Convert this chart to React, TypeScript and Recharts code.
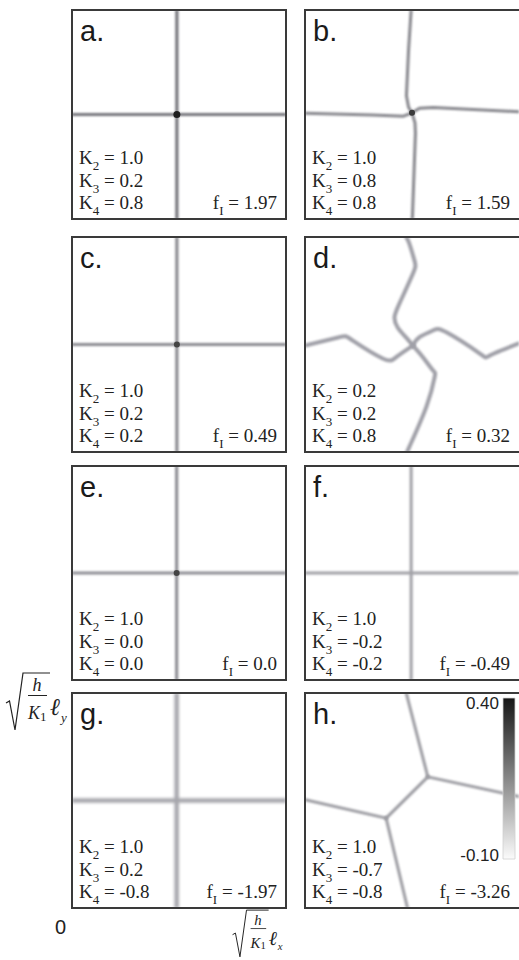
import React from "react";
import { ComposedChart, Line, XAxis, YAxis, BarChart, Bar } from "recharts";

type Arm = number[][];

// panel parameters
const panelLetters = ["a", "b", "c", "d", "e", "f", "g", "h"];
const k2Values = ["1.0", "1.0", "1.0", "0.2", "1.0", "1.0", "1.0", "1.0"];
const k3Values = ["0.2", "0.8", "0.2", "0.2", "0.0", "-0.2", "0.2", "-0.7"];
const k4Values = ["0.8", "0.8", "0.2", "0.8", "0.0", "-0.2", "-0.8", "-0.8"];
const fIValues = ["1.97", "1.59", "0.49", "0.32", "0.0", "-0.49", "-1.97", "-3.26"];

// domain walls, in panel units (0..1, y up)
const wallsA: Arm[] = [
  [[0.49, 0], [0.49, 1]],
  [[0, 0.5], [1, 0.5]],
];
const wallsB: Arm[] = [
  [[0.496, 1], [0.484, 0.81], [0.474, 0.59], [0.484, 0.535], [0.5, 0.508]],
  [[0, 0.506], [0.315, 0.498], [0.46, 0.492], [0.5, 0.508]],
  [[0.5, 0.508], [0.535, 0.53], [0.6, 0.534], [1, 0.513]],
  [[0.5, 0.508], [0.514, 0.46], [0.516, 0.41], [0.502, 0.01], [0.5, 0]],
];
const wallsC: Arm[] = [
  [[0.49, 0], [0.49, 1]],
  [[0, 0.5], [1, 0.5]],
];
const wallsD: Arm[] = [
  [[0.473, 1], [0.488, 0.968], [0.512, 0.889], [0.504, 0.829], [0.441, 0.69], [0.418, 0.625], [0.433, 0.579], [0.473, 0.532], [0.504, 0.495]],
  [[0, 0.495], [0.16, 0.534], [0.222, 0.519], [0.363, 0.435], [0.426, 0.441], [0.504, 0.495]],
  [[0.504, 0.495], [0.535, 0.534], [0.598, 0.565], [0.661, 0.557], [0.817, 0.458], [0.864, 0.449], [1, 0.505]],
  [[0.504, 0.495], [0.551, 0.441], [0.598, 0.38], [0.606, 0.349], [0.567, 0.21], [0.488, 0.025], [0.479, 0]],
];
const wallsE: Arm[] = [
  [[0.489, 0], [0.489, 1]],
  [[0, 0.5], [1, 0.5]],
];
const wallsF: Arm[] = [
  [[0.496, 0], [0.496, 1]],
  [[0, 0.5], [1, 0.5]],
];
const wallsG: Arm[] = [
  [[0.489, 0], [0.489, 1]],
  [[0, 0.5], [1, 0.5]],
];
const wallsH: Arm[] = [
  [[0.473, 1], [0.574, 0.61]],
  [[0.574, 0.61], [1, 0.518]],
  [[0.574, 0.61], [0.379, 0.418]],
  [[0, 0.504], [0.379, 0.418]],
  [[0.379, 0.418], [0.479, 0]],
];
const panelWalls = [wallsA, wallsB, wallsC, wallsD, wallsE, wallsF, wallsG, wallsH];

// dark spots where walls meet
const panelJunctions: number[][][] = [
  [[0.49, 0.5]],
  [[0.5, 0.508]],
  [[0.49, 0.5]],
  [],
  [[0.489, 0.5]],
  [],
  [],
  [],
];

// colour bar
const colorbarTicks = [-0.1, 0.4];
const colorbarData = [{ name: "phi", range: [-0.1, 0.4] }];

const panelStyle = [
  { stroke: "#74747a", width: 3.2, blur: 1.3, dot: "#1e1e1e", r: 3.5 },
  { stroke: "#86868c", width: 3, blur: 1, dot: "#3a3a3a", r: 3 },
  { stroke: "#8a8a90", width: 3.2, blur: 1.2, dot: "#444", r: 3 },
  { stroke: "#a0a0a8", width: 4, blur: 1.2, dot: "#444", r: 3 },
  { stroke: "#8e8e94", width: 3.2, blur: 1.2, dot: "#444", r: 3 },
  { stroke: "#a0a0a6", width: 3, blur: 1.1, dot: "#444", r: 3 },
  { stroke: "#a6a6ac", width: 4.5, blur: 1.4, dot: "#444", r: 3 },
  { stroke: "#9c9ca2", width: 3, blur: 0.9, dot: "#444", r: 3 },
];

const colLeft = [72, 305];
const rowTop = [10, 237, 466, 693];
const rowHeight = [209, 215, 214, 215];
const PW = 214;

const SANS = '"Liberation Sans", Arial, sans-serif';
const SERIF = '"Liberation Serif", "Times New Roman", serif';

function toPts(arm: Arm) {
  return arm.map(([x, y]) => ({ x, y }));
}

function Panel({ i }: { i: number }) {
  const col = i % 2;
  const row = Math.floor(i / 2);
  const left = colLeft[col];
  const top = rowTop[row];
  const h = rowHeight[row];
  const st = panelStyle[i];
  const boxW = col === 1 ? PW + 4 : PW;
  const kLines = [
    ["2", k2Values[i]],
    ["3", k3Values[i]],
    ["4", k4Values[i]],
  ];
  return (
    <>
      <div style={{ position: "absolute", left, top, width: PW, height: h, background: "#fff" }}>
        <ComposedChart width={PW} height={h} margin={{ top: 0, right: 0, bottom: 0, left: 0 }}>
          <XAxis type="number" dataKey="x" domain={[0, 1]} hide allowDataOverflow />
          <YAxis type="number" dataKey="y" domain={[0, 1]} hide allowDataOverflow />
          {panelWalls[i].map((arm, j) => (
            <Line
              key={j}
              data={toPts(arm)}
              dataKey="y"
              type={i === 3 ? "natural" : "linear"}
              stroke={st.stroke}
              strokeWidth={st.width}
              strokeLinejoin="round"
              strokeLinecap="round"
              dot={false}
              activeDot={false}
              className={`soft${i}`}
              isAnimationActive={false}
            />
          ))}
          {panelJunctions[i].map((p, j) => (
            <Line
              key={"j" + j}
              data={[{ x: p[0], y: p[1] }]}
              dataKey="y"
              stroke="none"
              dot={{ r: st.r, fill: st.dot, strokeWidth: 0 }}
              activeDot={false}
              className="spot"
              isAnimationActive={false}
            />
          ))}
        </ComposedChart>
      </div>
      <div
        style={{
          position: "absolute",
          left: left - 1,
          top: top - 1,
          width: boxW + 2,
          height: h + 2,
          border: "2px solid #3a3a3a",
          boxSizing: "border-box",
          pointerEvents: "none",
        }}
      />
      <svg
        width={PW}
        height={h}
        style={{ position: "absolute", left, top, overflow: "visible", pointerEvents: "none" }}
      >
        <text x={8} y={31} fontFamily={SANS} fontSize={29} fill="#1a1a1a">
          {panelLetters[i]}.
        </text>
        {kLines.map(([sub, val], j) => (
          <text key={j} x={7} y={h - 55 + 22.5 * j} fontFamily={SERIF} fontSize={19} fill="#222">
            K
            <tspan fontSize={13} dy={6}>
              {sub}
            </tspan>
            <tspan dy={-6}>{"\u00a0= " + val}</tspan>
          </text>
        ))}
        <text x={PW - 9} y={h - 10} textAnchor="end" fontFamily={SERIF} fontSize={19} fill="#222">
          f
          <tspan fontSize={13} dy={6}>
            I
          </tspan>
          <tspan dy={-6}>{"\u00a0= " + fIValues[i]}</tspan>
        </text>
      </svg>
    </>
  );
}

function ColorbarTick(props: any) {
  const { x, y, payload } = props;
  const dy = payload.value > 0 ? 7 : -2;
  return (
    <text x={x} y={y + dy} textAnchor="end" dominantBaseline="middle" fontFamily={SANS} fontSize={17} fill="#222">
      {Number(payload.value).toFixed(2)}
    </text>
  );
}

function AxisLabel({ sub }: { sub: string }) {
  return (
    <g fill="#222" fontFamily={SERIF} fontStyle="italic">
      <path d="M 6 33 L 9.5 31 L 15 60 L 23 3 L 50 3" stroke="#222" strokeWidth={1.2} fill="none" />
      <text x={37} y={21} fontSize={18} textAnchor="middle">
        h
      </text>
      <line x1={28} x2={47} y1={25.5} y2={25.5} stroke="#222" strokeWidth={1} />
      <text x={28} y={49} fontSize={18}>
        K
        <tspan fontStyle="normal" fontSize={13} dy={2}>
          1
        </tspan>
      </text>
      <text x={50} y={45} fontSize={24}>
        ℓ
      </text>
      <text x={61} y={52} fontSize={13}>
        {sub}
      </text>
    </g>
  );
}

export default function App() {
  return (
    <div style={{ position: "absolute", left: 0, top: 0, width: 519, height: 960, background: "#fff", overflow: "hidden" }}>
      <style>{panelStyle.map((s, i) => `.soft${i}{filter:blur(${s.blur}px)}`).join("") + ".spot{filter:blur(1.2px)}"}</style>
      {panelLetters.map((_, i) => (
        <Panel key={i} i={i} />
      ))}
      <div style={{ position: "absolute", left: 451, top: 682 }}>
        <BarChart
          width={68}
          height={191}
          data={colorbarData}
          margin={{ top: 16, right: 4, bottom: 14, left: 0 }}
          barCategoryGap={0}
        >
          <defs>
            <linearGradient id="cbar" x1="0" y1="0" x2="0" y2="1">
              <stop offset="0%" stopColor="#161616" />
              <stop offset="45%" stopColor="#7c7c7c" />
              <stop offset="100%" stopColor="#fbfbfb" />
            </linearGradient>
          </defs>
          <XAxis dataKey="name" hide />
          <YAxis
            type="number"
            domain={[-0.1, 0.4]}
            ticks={colorbarTicks}
            interval={0}
            width={52}
            axisLine={false}
            tickLine={false}
            tickSize={0}
            tickMargin={4}
            tick={ColorbarTick}
          />
          <Bar dataKey="range" fill="url(#cbar)" stroke="#d0d0d0" strokeWidth={0.8} isAnimationActive={false} />
        </BarChart>
      </div>
      <svg width={72} height={66} style={{ position: "absolute", left: 0, top: 670 }}>
        <AxisLabel sub="y" />
      </svg>
      <svg width={80} height={60} style={{ position: "absolute", left: 226, top: 906 }}>
        <g transform="scale(0.82) translate(2,2)">
          <AxisLabel sub="x" />
        </g>
      </svg>
      <div style={{ position: "absolute", left: 55, top: 917, fontFamily: SANS, fontSize: 20, color: "#222", lineHeight: "20px" }}>
        0
      </div>
    </div>
  );
}
